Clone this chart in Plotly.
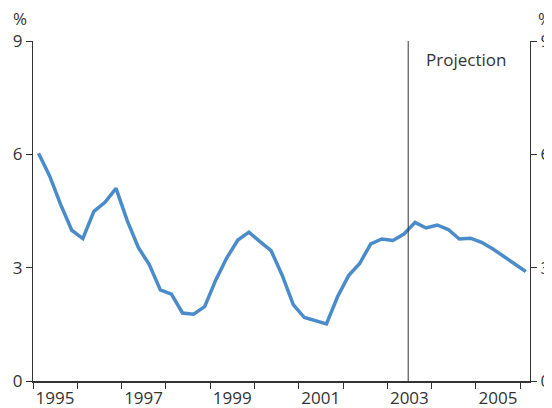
import plotly.graph_objects as go

quarters = [1995 + 0.125 + 0.25 * i for i in range(45)]
rate = [6.03, 5.43, 4.67, 3.99, 3.77, 4.49, 4.73, 5.10,
        4.25, 3.54, 3.08, 2.41, 2.30, 1.80, 1.77, 1.97,
        2.67, 3.26, 3.73, 3.94, 3.69, 3.45, 2.80, 2.02,
        1.68, 1.60, 1.51, 2.23, 2.79, 3.11, 3.63, 3.76,
        3.72, 3.89, 4.20, 4.05, 4.13, 4.01, 3.76, 3.78,
        3.67, 3.50, 3.30, 3.10, 2.90]
year_labels = ["1995", "1997", "1999", "2001", "2003", "2005"]
year_label_vals = [1995, 1997, 1999, 2001, 2003, 2005]
y_ticks = [0, 3, 6, 9]
projection_start = 2003.47

FONT = "Open Sans"
TXT = "#333333"
AX = "#333333"

fig = go.Figure()
fig.add_trace(go.Scatter(x=quarters, y=rate, mode="lines",
                         line=dict(color="#4a8bc9", width=3.5),
                         showlegend=False, hoverinfo="skip"))
fig.add_trace(go.Scatter(x=quarters, y=rate, mode="lines", yaxis="y2",
                         line=dict(color="rgba(0,0,0,0)", width=0),
                         showlegend=False, hoverinfo="skip"))

fig.update_layout(
    width=544, height=400,
    margin=dict(l=25, r=22, t=33, b=27),
    paper_bgcolor="white", plot_bgcolor="white",
    font=dict(family=FONT, size=17, color=TXT),
    xaxis=dict(range=[1995, 2006.22], tickmode="array",
               tickvals=year_label_vals, ticktext=year_labels,
               ticks="outside", ticklen=6, tickcolor=AX, tickwidth=1,
               ticklabelshift=22, ticklabelstandoff=-5,
               minor=dict(dtick=1, tick0=1995, ticks="outside", ticklen=6,
                          tickcolor=AX, tickwidth=1, showgrid=False),
               showline=True, linecolor=AX, linewidth=1.5,
               showgrid=False, zeroline=False, automargin=False,
               tickfont=dict(family=FONT, size=17, color=TXT)),
    yaxis=dict(range=[0, 9], tickvals=y_ticks, ticks="outside", ticklen=6,
               tickcolor=AX, showline=True, linecolor=AX, linewidth=1,
               showgrid=False, zeroline=False, automargin=False,
               tickfont=dict(family=FONT, size=17, color=TXT)),
    yaxis2=dict(range=[0, 9], tickvals=y_ticks, ticks="outside", ticklen=6,
                tickcolor=AX, showline=True, linecolor=AX, linewidth=1,
                showgrid=False, zeroline=False, overlaying="y", side="right",
                automargin=False,
                tickfont=dict(family=FONT, size=17, color=TXT)),
)

fig.add_shape(type="line", x0=projection_start, x1=projection_start,
              y0=0, y1=9, xref="x", yref="y",
              line=dict(color=AX, width=1))
fig.add_annotation(x=projection_start, y=8.5, xref="x", yref="y",
                   text="Projection", showarrow=False, xanchor="left",
                   yanchor="middle", xshift=16,
                   font=dict(family=FONT, size=17, color=TXT))
fig.add_annotation(x=0, y=1, xref="paper", yref="paper", text="%",
                   showarrow=False, xanchor="right", yanchor="middle",
                   xshift=-4, yshift=23,
                   font=dict(family=FONT, size=17, color=TXT))
fig.add_annotation(x=1, y=1, xref="paper", yref="paper", text="%",
                   showarrow=False, xanchor="left", yanchor="middle",
                   xshift=6, yshift=23,
                   font=dict(family=FONT, size=17, color=TXT))

fig.write_html("out.html")
